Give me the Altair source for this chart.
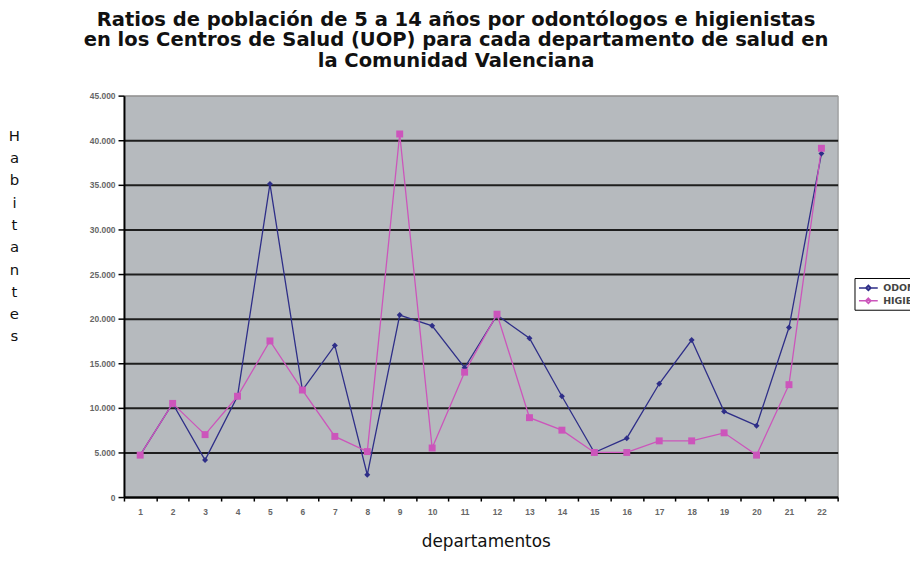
import altair as alt
import pandas as pd

departamentos = list(range(1, 23))
odontologos = [4700, 10500, 4150, 11300, 35100, 12000, 17000, 2500, 20400, 19200, 14500,
               20400, 17800, 11300, 5000, 6600, 12700, 17600, 9600, 8000, 19000, 38500]
higienistas = [4700, 10500, 7000, 11300, 17500, 12000, 6800, 5100, 40700, 5500, 14000,
               20500, 8900, 7500, 5000, 5000, 6300, 6300, 7200, 4700, 12600, 39100]
series_names = ["ODONTÓLOGOS", "HIGIENISTAS"]
series_colors = ["#2E2E88", "#CC55BB"]
series_shapes = ["diamond", "square"]
series_sizes = [36, 49]
y_ticks = list(range(0, 45001, 5000))
title_lines = ["Ratios de población de 5 a 14 años por odontólogos e higienistas",
               "en los Centros de Salud (UOP) para cada departamento de salud en",
               "la Comunidad Valenciana"]
y_title = list("Habitantes")
x_title = "departamentos"

rows = []
for name, vals in zip(series_names, [odontologos, higienistas]):
    for d, v in zip(departamentos, vals):
        rows.append({"dep": d, "valor": v, "serie": name})
df = pd.DataFrame(rows)

x_enc = alt.X("dep:O", title=x_title,
              axis=alt.Axis(labelAngle=0, tickBand="extent", tickSize=4, tickColor="#000",
                            tickWidth=1.5, domainColor="#000", domainWidth=2,
                            labelFont="Liberation Sans", labelFontSize=8.5, labelColor="#666",
                            labelFontWeight="bold", labelPadding=7,
                            titleFont="DejaVu Sans", titleFontSize=17, titleFontWeight="normal",
                            titleColor="#111", titleX=365, titleY=45, titleBaseline="middle",
                            titleAlign="center"))
y_enc = alt.Y("valor:Q", title=y_title,
              scale=alt.Scale(domain=[0, 45000], nice=False),
              axis=alt.Axis(values=y_ticks,
                            labelExpr="replace(format(datum.value, ','), ',', '.')",
                            grid=True,
                            gridColor={"condition": {"test": "datum.value >= 45000", "value": "#9a9a9a"},
                                       "value": "#1e1e1e"},
                            gridWidth=2, tickSize=6, tickColor="#000", tickWidth=1.5,
                            domainColor="#000", domainWidth=2,
                            labelFont="Liberation Sans", labelFontSize=8.5, labelColor="#666",
                            labelFontWeight="bold", labelPadding=3,
                            titleFont="DejaVu Sans", titleFontSize=15, titleFontWeight="normal",
                            titleColor="#111", titleAngle=0, titleX=-111, titleY=33,
                            titleBaseline="top", titleAlign="center", titleLineHeight=22.5))

legend_path = "M-1.6,0L1.6,0M0,-0.45L0.45,0L0,0.45L-0.45,0Z"

lines = alt.Chart(df).mark_line(strokeWidth=1.3).encode(
    x=x_enc, y=y_enc,
    color=alt.Color("serie:N", scale=alt.Scale(domain=series_names, range=series_colors),
                    legend=alt.Legend(title=None, orient="none", legendX=737, legendY=184,
                                      symbolType=legend_path, symbolSize=140,
                                      symbolStrokeWidth=1.5, padding=3, symbolOffset=4,
                                      fillColor="white", strokeColor="#000",
                                      labelFont="DejaVu Sans", labelFontSize=9.5,
                                      labelFontWeight="bold", labelColor="#444",
                                      labelOffset=8, rowPadding=0)),
    order=alt.Order("dep:O")
)

layers = [lines]
for name, col, shp, sz in zip(series_names, series_colors, series_shapes, series_sizes):
    layers.append(
        alt.Chart(df).transform_filter(alt.datum.serie == name)
        .mark_point(filled=True, opacity=1, shape=shp, size=sz, color=col)
        .encode(x=alt.X("dep:O"), y=alt.Y("valor:Q"))
    )

chart = alt.layer(*layers).properties(
    width=720, height=405,
    autosize=alt.AutoSizeParams(type="none"),
    padding={"left": 117, "top": 86, "right": 73, "bottom": 52},
    title=alt.TitleParams(text=title_lines, font="DejaVu Sans", fontSize=19.7, fontWeight="bold",
                          color="#111", anchor="middle", lineHeight=21, offset=21, dx=-25),
    background="white",
).configure_view(fill="#B6BABE", stroke="#8c8c8c", strokeWidth=1)

chart.save("out.html", embed_options={"renderer": "svg", "actions": False})
